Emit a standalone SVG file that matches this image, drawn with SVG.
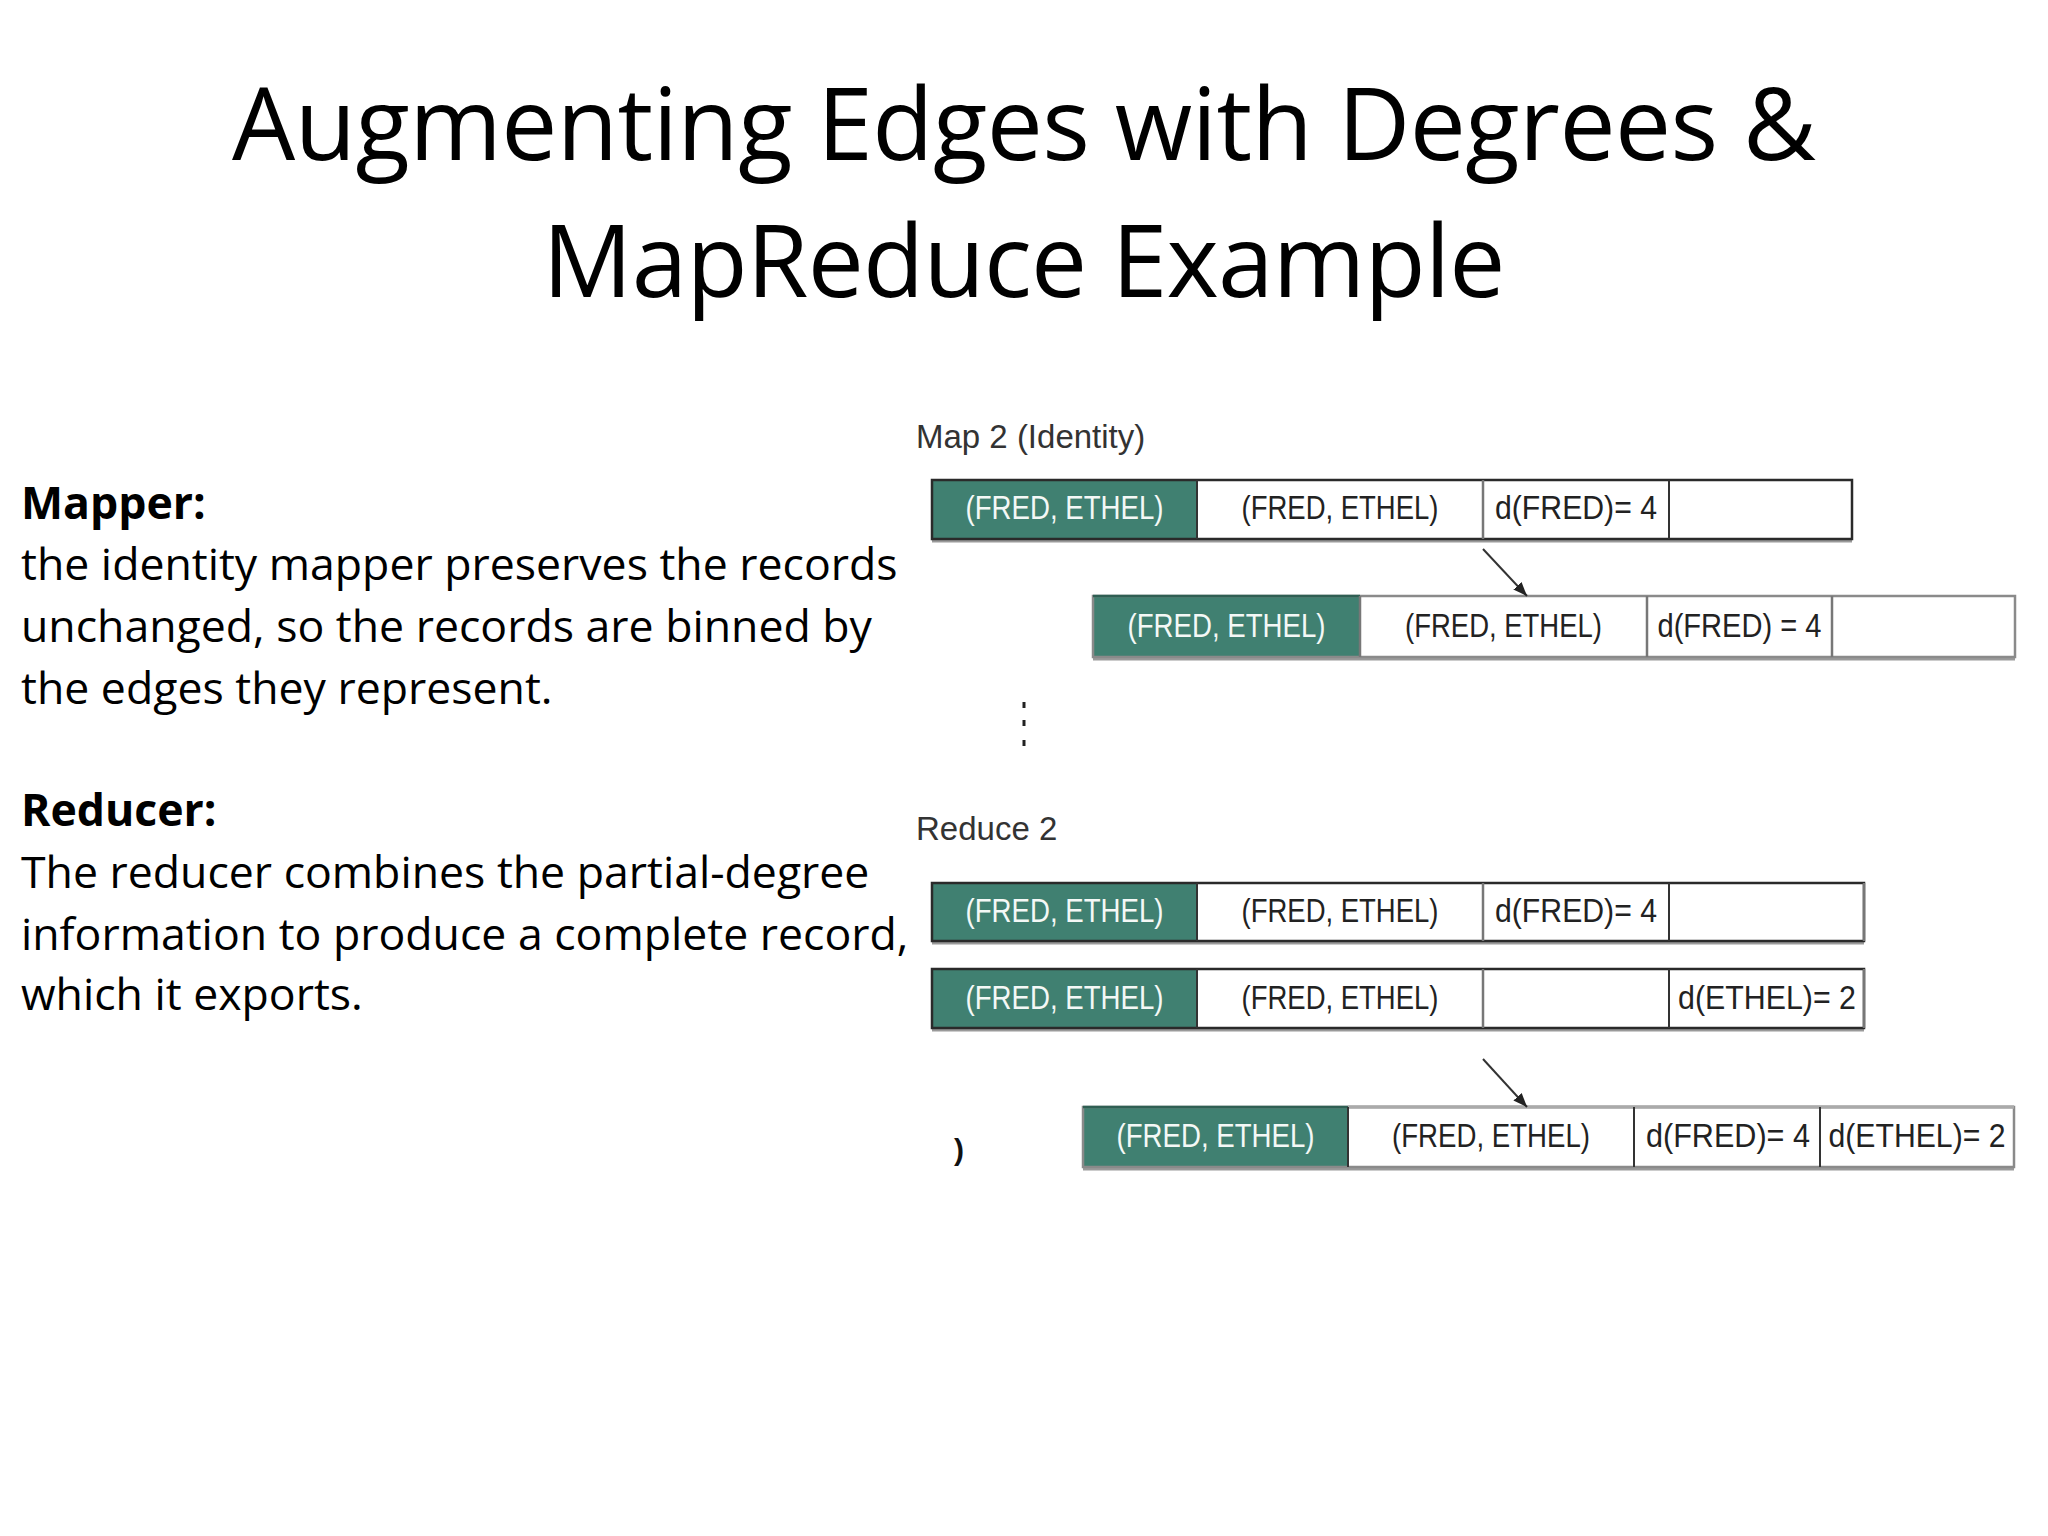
<svg xmlns="http://www.w3.org/2000/svg" width="2048" height="1536" viewBox="0 0 2048 1536">
<defs>
<style>
.title{font-family:"Open Sans","Liberation Sans",sans-serif;font-size:100px;fill:#000;text-anchor:middle}
.body{font-family:"Open Sans","Liberation Sans",sans-serif;font-size:44.6px;fill:#000}
.bold{font-weight:bold}
.lbl{font-family:"Liberation Sans","DejaVu Sans",sans-serif;font-size:33px;fill:#333}
.ct{font-family:"Liberation Sans","DejaVu Sans",sans-serif;font-size:33px;fill:#222;text-anchor:middle}
.wt{fill:#f4f8f6}
.green{fill:#408071}
.white{fill:#fff}
.frame{fill:none;stroke:#2a2a2a;stroke-width:2.5}
.frame2{fill:none;stroke:#8a8a8a;stroke-width:2.5}
.div{stroke:#333;stroke-width:2}
.div2{stroke:#777;stroke-width:2.5}
.shadow{stroke:#9a9a9a;stroke-width:3}
.conn{stroke:#333;stroke-width:2;fill:none}
</style>
<marker id="ah" viewBox="0 0 10 10" refX="10" refY="5" markerWidth="14" markerHeight="14" orient="auto" markerUnits="userSpaceOnUse">
<path d="M0,1 L10,5 L0,9 z" fill="#222"/>
</marker>
</defs>
<rect width="2048" height="1536" fill="#fff"/>

<g id="title">
<text class="title" x="1024" y="160" textLength="1584">Augmenting Edges with Degrees &amp;</text>
<text class="title" x="1024" y="297" textLength="963">MapReduce Example</text>
</g>

<g id="left-text">
<text class="body bold" x="21" y="519">Mapper:</text>
<text class="body" x="21" y="580">the identity mapper preserves the records</text>
<text class="body" x="21" y="642">unchanged, so the records are binned by</text>
<text class="body" x="21" y="704">the edges they represent.</text>
<text class="body bold" x="21" y="826">Reducer:</text>
<text class="body" x="21" y="888">The reducer combines the partial-degree</text>
<text class="body" x="21" y="950">information to produce a complete record,</text>
<text class="body" x="21" y="1010">which it exports.</text>
</g>

<g id="label-map">
<text class="lbl" x="916" y="448">Map 2 (Identity)</text>
</g>
<g id="label-reduce">
<text class="lbl" x="916" y="840">Reduce 2</text>
</g>

<g id="row-map-in">
<rect class="green" x="932" y="480" width="265" height="59"/>
<rect class="white" x="1197" y="480" width="655" height="59"/>
<line class="shadow" x1="932" y1="541" x2="1852" y2="541"/>
<rect class="frame" x="932" y="480" width="920" height="59"/>
<line class="div" x1="1197" y1="480" x2="1197" y2="539"/>
<line class="div2" x1="1483" y1="480" x2="1483" y2="539"/>
<line class="div" x1="1669" y1="480" x2="1669" y2="539"/>
<text class="ct wt" x="1064.5" y="519" textLength="198" lengthAdjust="spacingAndGlyphs">(FRED, ETHEL)</text>
<text class="ct" x="1340" y="519" textLength="197" lengthAdjust="spacingAndGlyphs">(FRED, ETHEL)</text>
<text class="ct" x="1576" y="519" textLength="162" lengthAdjust="spacingAndGlyphs">d(FRED)= 4</text>
</g>

<g id="row-map-out">
<rect class="green" x="1093" y="596" width="267" height="61"/>
<rect class="white" x="1360" y="596" width="655" height="61"/>
<line class="shadow" x1="1093" y1="659" x2="2015" y2="659"/>
<rect class="frame2" x="1093" y="596" width="922" height="61"/>
<line x1="1093" y1="596" x2="1360" y2="596" stroke="#2f5f53" stroke-width="2.5"/>
<line class="div2" x1="1360" y1="596" x2="1360" y2="657"/>
<line class="div2" x1="1647" y1="596" x2="1647" y2="657"/>
<line class="div2" x1="1832" y1="596" x2="1832" y2="657"/>
<text class="ct wt" x="1226.5" y="637" textLength="198" lengthAdjust="spacingAndGlyphs">(FRED, ETHEL)</text>
<text class="ct" x="1503.5" y="637" textLength="197" lengthAdjust="spacingAndGlyphs">(FRED, ETHEL)</text>
<text class="ct" x="1739.5" y="637" textLength="164" lengthAdjust="spacingAndGlyphs">d(FRED) = 4</text>
</g>

<g id="ellipsis">
<rect x="1022.5" y="702" width="3" height="6" fill="#222"/>
<rect x="1022.5" y="720" width="3" height="6" fill="#222"/>
<rect x="1022.5" y="740" width="3" height="6" fill="#222"/>
</g>

<g id="row-reduce-in-1">
<rect class="green" x="932" y="883" width="265" height="58"/>
<rect class="white" x="1197" y="883" width="667" height="58"/>
<line class="shadow" x1="932" y1="943" x2="1864" y2="943"/>
<rect class="frame" x="932" y="883" width="932" height="58"/>
<line class="div" x1="1197" y1="883" x2="1197" y2="941"/>
<line class="div2" x1="1483" y1="883" x2="1483" y2="941"/>
<line class="div" x1="1669" y1="883" x2="1669" y2="941"/>
<line class="div2" x1="1864" y1="883" x2="1864" y2="941"/>
<text class="ct wt" x="1064.5" y="922" textLength="198" lengthAdjust="spacingAndGlyphs">(FRED, ETHEL)</text>
<text class="ct" x="1340" y="922" textLength="197" lengthAdjust="spacingAndGlyphs">(FRED, ETHEL)</text>
<text class="ct" x="1576" y="922" textLength="162" lengthAdjust="spacingAndGlyphs">d(FRED)= 4</text>
</g>

<g id="row-reduce-in-2">
<rect class="green" x="932" y="969" width="265" height="59"/>
<rect class="white" x="1197" y="969" width="667" height="59"/>
<line class="shadow" x1="932" y1="1030" x2="1864" y2="1030"/>
<rect class="frame" x="932" y="969" width="932" height="59"/>
<line class="div" x1="1197" y1="969" x2="1197" y2="1028"/>
<line class="div2" x1="1483" y1="969" x2="1483" y2="1028"/>
<line class="div" x1="1669" y1="969" x2="1669" y2="1028"/>
<line class="div2" x1="1864" y1="969" x2="1864" y2="1028"/>
<text class="ct wt" x="1064.5" y="1008.5" textLength="198" lengthAdjust="spacingAndGlyphs">(FRED, ETHEL)</text>
<text class="ct" x="1340" y="1008.5" textLength="197" lengthAdjust="spacingAndGlyphs">(FRED, ETHEL)</text>
<text class="ct" x="1767" y="1008.5" textLength="178" lengthAdjust="spacingAndGlyphs">d(ETHEL)= 2</text>
</g>

<g id="row-reduce-out">
<rect class="green" x="1083" y="1107" width="265" height="60"/>
<rect class="white" x="1348" y="1107" width="666" height="60"/>
<line class="shadow" x1="1083" y1="1169" x2="2014" y2="1169"/>
<rect class="frame2" x="1083" y="1107" width="931" height="60"/>
<line x1="1348" y1="1107" x2="2014" y2="1107" stroke="#aaa" stroke-width="3.5"/>
<line x1="1083" y1="1107" x2="1348" y2="1107" stroke="#2f5f53" stroke-width="2.5"/>
<line class="div" x1="1348" y1="1107" x2="1348" y2="1167"/>
<line class="div" x1="1634" y1="1107" x2="1634" y2="1167"/>
<line class="div" x1="1820" y1="1107" x2="1820" y2="1167"/>
<text class="ct wt" x="1215.5" y="1147" textLength="198" lengthAdjust="spacingAndGlyphs">(FRED, ETHEL)</text>
<text class="ct" x="1491" y="1147" textLength="198" lengthAdjust="spacingAndGlyphs">(FRED, ETHEL)</text>
<text class="ct" x="1728" y="1147" textLength="164" lengthAdjust="spacingAndGlyphs">d(FRED)= 4</text>
<text class="ct" x="1917" y="1147" textLength="177" lengthAdjust="spacingAndGlyphs">d(ETHEL)= 2</text>
</g>

<g id="stray">
<text x="954" y="1160" font-family="Liberation Sans, sans-serif" font-size="30" font-weight="bold" fill="#111">)</text>
</g>

<g id="connectors">
<line class="conn" x1="1483" y1="549" x2="1527" y2="596" marker-end="url(#ah)"/>
<line class="conn" x1="1483" y1="1059" x2="1527" y2="1107" marker-end="url(#ah)"/>
</g>
</svg>
